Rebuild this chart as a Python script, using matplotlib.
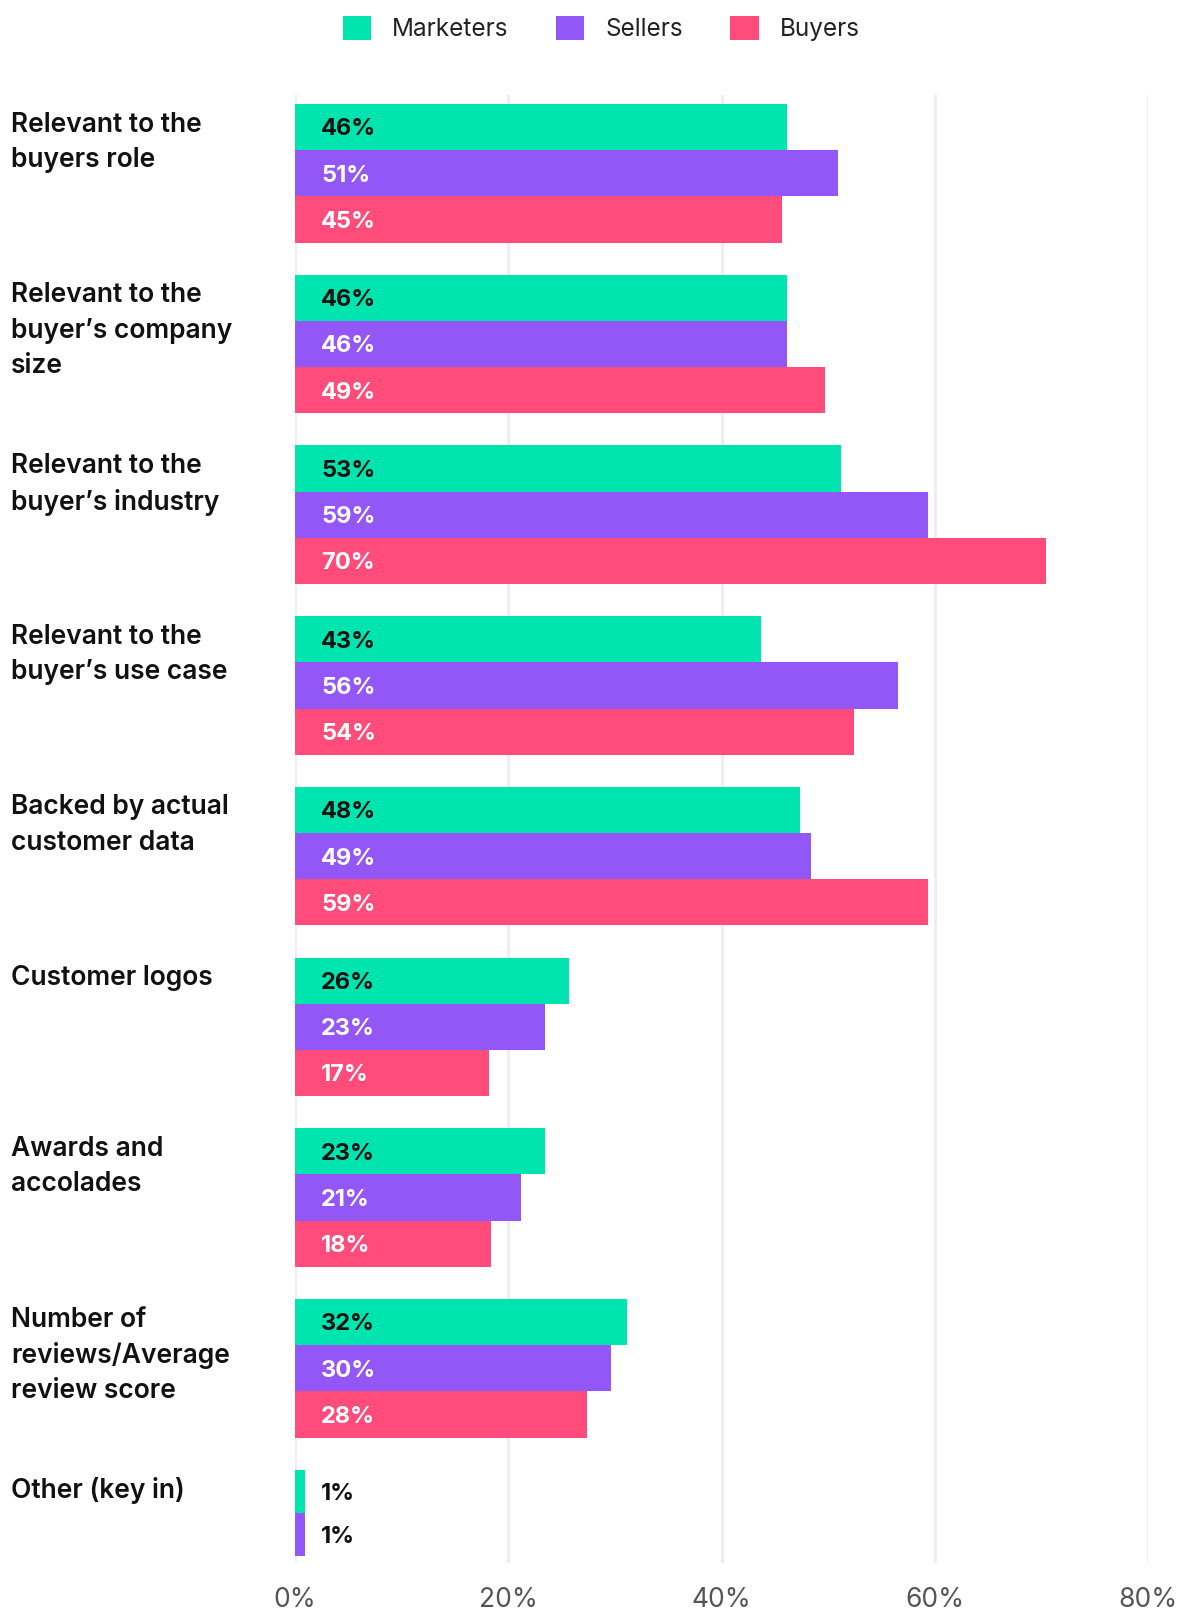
import matplotlib
matplotlib.use("Agg")
import matplotlib.pyplot as plt
import matplotlib.transforms as mtransforms
from matplotlib.patches import Patch
import numpy as np

plt.rcParams['font.family'] = ['Inter', 'DejaVu Sans']

categories = [
    "Relevant to the\nbuyers role",
    "Relevant to the\nbuyer\u2019s company\nsize",
    "Relevant to the\nbuyer\u2019s industry",
    "Relevant to the\nbuyer\u2019s use case",
    "Backed by actual\ncustomer data",
    "Customer logos",
    "Awards and\naccolades",
    "Number of\nreviews/Average\nreview score",
    "Other (key in)",
]
series = ["Marketers", "Sellers", "Buyers"]

# bar lengths as drawn, and the labels as printed on them
marketers = [46.1, 46.1, 51.2, 43.7, 47.4, 25.7, 23.4, 31.1, 0.9]
sellers = [50.9, 46.1, 59.4, 56.6, 48.4, 23.4, 21.2, 29.6, 0.9]
buyers = [45.7, 49.7, 70.4, 52.4, 59.4, 18.2, 18.4, 27.4, None]
marketers_lbl = ["46%", "46%", "53%", "43%", "48%", "26%", "23%", "32%", "1%"]
sellers_lbl = ["51%", "46%", "59%", "56%", "49%", "23%", "21%", "30%", "1%"]
buyers_lbl = ["45%", "49%", "70%", "54%", "59%", "17%", "18%", "28%", None]

colors = ["#00E5B0", "#9457F7", "#FF4C7A"]
label_colors = ["#111111", "#FFFFFF", "#FFFFFF"]

fig = plt.figure(figsize=(11.77, 16.10), dpi=100)
H = 1610.0
ax = fig.add_axes([295 / 1177, 1 - 1563 / H, (1148 - 295) / 1177, (1563 - 95) / H])

h = 0.2707
h_other = 0.252
values = [marketers, sellers, buyers]
labels = [marketers_lbl, sellers_lbl, buyers_lbl]

for i, cat in enumerate(categories):
    bh = h_other if cat.startswith("Other") else h
    top = i - 1.5 * h
    for j in range(3):
        v = values[j][i]
        if v is None:
            continue
        yc = top + (j + 0.5) * bh
        ax.barh(yc, v, height=bh, color=colors[j], zorder=2, linewidth=0)
        txt_col = "#111111" if cat.startswith("Other") else label_colors[j]
        ax.text(2.45, yc + 0.014, labels[j][i], ha="left", va="center", fontsize=17,
                fontweight="bold", color=txt_col, zorder=3)

# category labels on the left
tr = mtransforms.blended_transform_factory(fig.transFigure, ax.transData)
for i, cat in enumerate(categories):
    ax.text(11 / 1177, i - 1.5 * h + 0.045, cat, transform=tr, ha="left", va="top",
            fontsize=19, fontweight="semibold", color="#111111", linespacing=1.46)

ax.set_xlim(0, 80)
ax.set_ylim(8.141, -0.4587)
ax.set_xticks([0, 20, 40, 60, 80])
ax.set_xticklabels(["0%", "20%", "40%", "60%", "80%"])
ax.set_yticks([])
ax.tick_params(axis="x", length=0, pad=17, labelsize=19, labelcolor="#555555")
ax.grid(axis="x", color="#EDEDF2", linewidth=2.2, zorder=0)
ax.set_axisbelow(True)
for s in ax.spines.values():
    s.set_visible(False)

handles = [Patch(facecolor=c, edgecolor="none") for c in colors]
fig.legend(handles, series, loc="center", bbox_to_anchor=(601 / 1177, 1 - 28.5 / H),
           ncol=3, frameon=False, fontsize=17.5, handlelength=1.18, handleheight=1.18,
           handletextpad=0.85, columnspacing=1.95, labelcolor="#222222")

fig.savefig("out.png", dpi=100)
